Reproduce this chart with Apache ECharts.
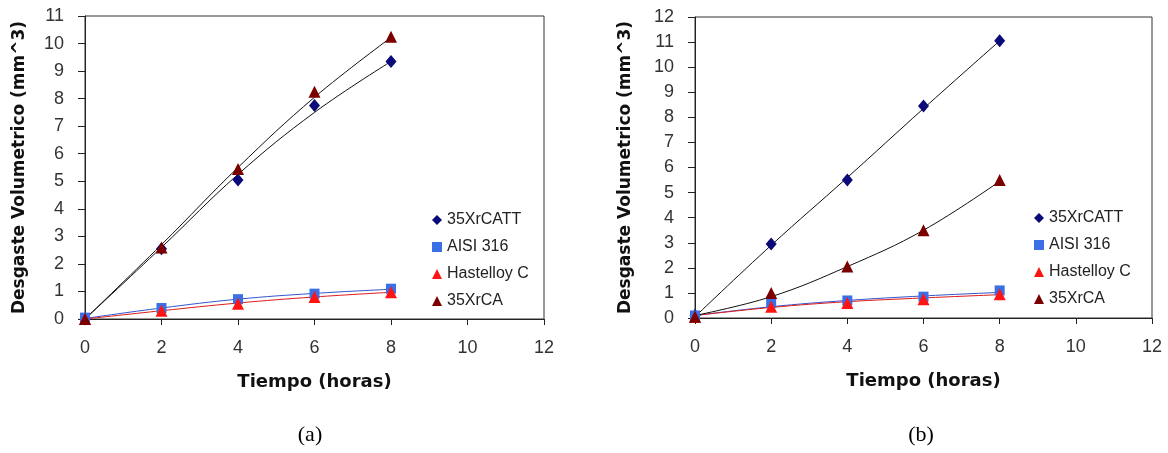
<!DOCTYPE html>
<html>
<head>
<meta charset="utf-8">
<script src="https://cdn.jsdelivr.net/npm/echarts@6/dist/echarts.min.js"></script>
<style>
  html, body { margin: 0; padding: 0; background: #fff; }
  #main { width: 1168px; height: 453px; }
</style>
</head>
<body>
<div id="main"></div>
<script>
var chart = echarts.init(document.getElementById('main'));

// horas
const tiempo = [0, 2, 4, 6, 8];
const names = ['35XrCATT', 'AISI 316', 'Hastelloy C', '35XrCA'];

// (a) puntos medidos
const a_catt = [0, 2.55, 5.05, 7.75, 9.35];
const a_aisi = [0.05, 0.4, 0.72, 0.92, 1.1];
const a_hast = [0, 0.3, 0.55, 0.8, 0.97];
const a_ca = [0, 2.6, 5.45, 8.25, 10.25];
// (a) lineas de tendencia
const a_catt_tr = [0, 2.6, 5.25, 7.5, 9.35];
const a_aisi_tr = [0.02, 0.4, 0.72, 0.93, 1.08];
const a_hast_tr = [0, 0.3, 0.58, 0.8, 0.97];
const a_ca_tr = [0, 2.7, 5.5, 8.05, 10.22];

// (b) puntos medidos
const b_catt = [0.1, 2.95, 5.5, 8.45, 11.05];
const b_aisi = [0.1, 0.6, 0.7, 0.85, 1.1];
const b_hast = [0.05, 0.45, 0.6, 0.75, 0.95];
const b_ca = [0.05, 1.0, 2.05, 3.5, 5.5];
// (b) lineas de tendencia
const b_catt_tr = [0.05, 2.9, 5.6, 8.35, 11.05];
const b_aisi_tr = [0.1, 0.45, 0.7, 0.88, 1.02];
const b_hast_tr = [0.1, 0.42, 0.65, 0.8, 0.93];
const b_ca_tr = [0.1, 0.85, 2.05, 3.5, 5.45];

const yMaxA = 11, yMaxB = 12;

const colors = ['#0a0a78', '#3a6fe6', '#ff1414', '#7a0000'];
const trendColors = ['#111', '#3355cc', '#dd1a1a', '#111'];
const symbols = ['diamond', 'rect', 'triangle', 'triangle'];
const sizes = [[11, 13], 10, 12, 12];

function pairs(ys) {
	return tiempo.map(function (x, i) { return [x, ys[i]]; });
}

function makeSeries(idx, points, trends) {
	var out = [];
	trends.forEach(function (t, k) {
		out.push({
			name: names[k] + ' tendencia',
			type: 'line',
			xAxisIndex: idx, yAxisIndex: idx,
			data: pairs(t),
			smooth: 0.4,
			showSymbol: false,
			silent: true,
			lineStyle: { color: trendColors[k], width: 1 },
			z: 2
		});
	});
	points.forEach(function (p, k) {
		out.push({
			name: names[k],
			type: 'scatter',
			xAxisIndex: idx, yAxisIndex: idx,
			data: pairs(p),
			symbol: symbols[k],
			symbolSize: sizes[k],
			itemStyle: { color: colors[k], opacity: 1 },
			z: 3
		});
	});
	return out;
}

var labelFont = { color: '#333', fontSize: 18, fontFamily: 'Liberation Sans' };
var nameFont = { color: '#111', fontSize: 17, fontWeight: 'bold', fontFamily: 'DejaVu Sans' };

function xAxis(idx) {
	return {
		type: 'value', gridIndex: idx, min: 0, max: 12, interval: 2,
		name: 'Tiempo (horas)', nameLocation: 'middle', nameGap: 54,
		nameTextStyle: Object.assign({}, nameFont, { fontSize: 18 }),
		axisLine: { lineStyle: { color: '#222', width: 1 } },
		axisTick: { inside: false, length: 6, lineStyle: { color: '#222' } },
		axisLabel: Object.assign({ margin: 20 }, labelFont),
		splitLine: { show: false }
	};
}

function yAxis(idx, max, gap) {
	return {
		type: 'value', gridIndex: idx, min: 0, max: max, interval: 1,
		name: 'Desgaste Volumetrico (mm^3)', nameLocation: 'middle', nameGap: gap,
		nameTextStyle: nameFont,
		axisLine: { show: true, lineStyle: { color: '#222', width: 1 } },
		axisTick: { show: true, inside: false, length: 7, lineStyle: { color: '#222' } },
		axisLabel: Object.assign({ margin: 21 }, labelFont),
		splitLine: { show: false }
	};
}

function legend(left, top) {
	return {
		orient: 'vertical', left: left, top: top,
		itemWidth: 10, itemHeight: 10, itemGap: 11,
		selectedMode: false,
		textStyle: { color: '#222', fontSize: 16, fontFamily: 'Liberation Sans' },
		data: names.map(function (n, k) { return { name: n, icon: symbols[k] }; })
	};
}

chart.setOption({
	backgroundColor: '#fff',
	animation: false,
	grid: [
		{ left: 85, right: 624, top: 16, bottom: 134, show: true, borderColor: '#333', borderWidth: 1 },
		{ left: 695, right: 16, top: 17, bottom: 135, show: true, borderColor: '#333', borderWidth: 1 }
	],
	xAxis: [xAxis(0), xAxis(1)],
	yAxis: [yAxis(0, yMaxA, 57), yAxis(1, yMaxB, 61)],
	legend: [legend(427, 207), legend(1029, 205)],
	graphic: [
		{ type: 'text', x: 310, y: 435, style: { text: '(a)', textAlign: 'center', textVerticalAlign: 'middle', font: '22px "Liberation Serif"', fill: '#000' } },
		{ type: 'text', x: 921, y: 435, style: { text: '(b)', textAlign: 'center', textVerticalAlign: 'middle', font: '22px "Liberation Serif"', fill: '#000' } }
	],
	series: makeSeries(0, [a_catt, a_aisi, a_hast, a_ca], [a_catt_tr, a_aisi_tr, a_hast_tr, a_ca_tr])
		.concat(makeSeries(1, [b_catt, b_aisi, b_hast, b_ca], [b_catt_tr, b_aisi_tr, b_hast_tr, b_ca_tr]))
});
</script>
</body>
</html>
